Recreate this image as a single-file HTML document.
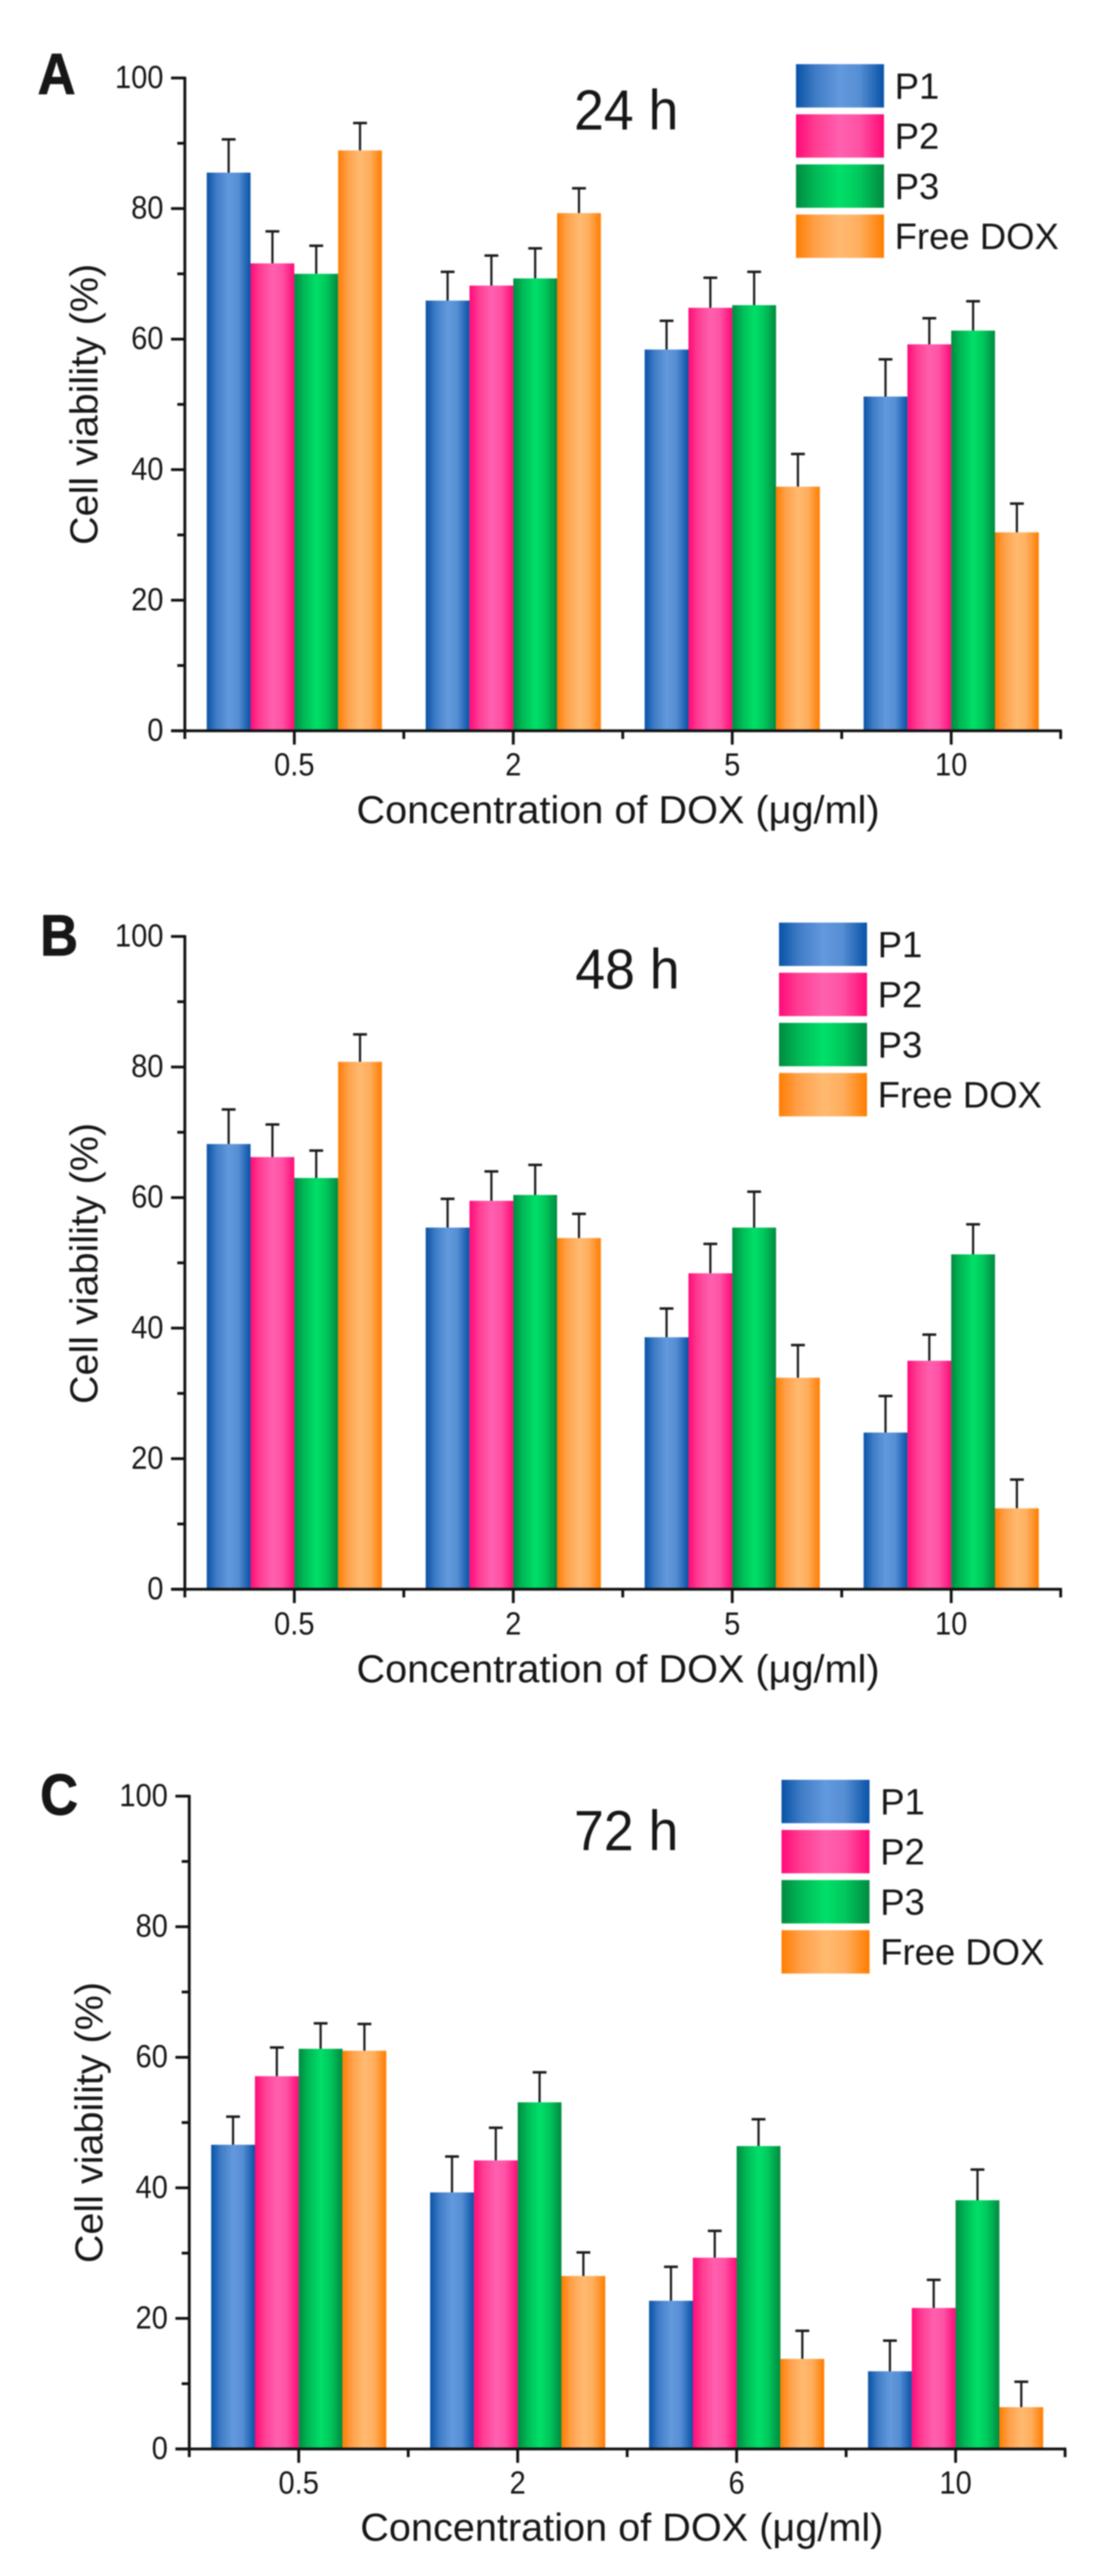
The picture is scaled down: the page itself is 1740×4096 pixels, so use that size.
<!DOCTYPE html>
<html lang="en">
<head>
<meta charset="utf-8">
<title>Cell viability charts</title>
<style>
html,body{margin:0;padding:0;background:#fff;width:1740px;height:4096px;overflow:hidden}
svg{display:block;filter:blur(1px)}
text{font-family:"Liberation Sans",Arial,sans-serif;fill:#161616}
</style>
</head>
<body>
<svg id="figure" xmlns="http://www.w3.org/2000/svg" width="1740" height="4096" viewBox="0 0 1740 4096">
<defs>
<linearGradient id="grad-p1"><stop offset="0" stop-color="#0852a6"/><stop offset=".22" stop-color="#3f7cc6"/><stop offset=".5" stop-color="#6399dd"/><stop offset=".72" stop-color="#568ed4"/><stop offset="1" stop-color="#0852a6"/></linearGradient>
<linearGradient id="grad-p2"><stop offset="0" stop-color="#ff0a78"/><stop offset=".22" stop-color="#ff3d92"/><stop offset=".5" stop-color="#ff60b0"/><stop offset=".72" stop-color="#ff52a4"/><stop offset="1" stop-color="#ff0a78"/></linearGradient>
<linearGradient id="grad-p3"><stop offset="0" stop-color="#008a40"/><stop offset=".22" stop-color="#00b856"/><stop offset=".5" stop-color="#00e068"/><stop offset=".72" stop-color="#00c85c"/><stop offset="1" stop-color="#008a40"/></linearGradient>
<linearGradient id="grad-dox"><stop offset="0" stop-color="#ff7d00"/><stop offset=".22" stop-color="#ffa04a"/><stop offset=".5" stop-color="#ffba70"/><stop offset=".72" stop-color="#ffae5e"/><stop offset="1" stop-color="#ff7d00"/></linearGradient>
</defs>
</svg>
<script>
// ---- chart data ----
const seriesNames = ["P1", "P2", "P3", "Free DOX"];
const yTickLabels = [0, 20, 40, 60, 80, 100];
const yMinorTicks = [10, 30, 50, 70, 90];

const categoriesA = ["0.5", "2", "5", "10"];
const p1ValuesA = [85.5, 65.9, 58.4, 51.2];
const p2ValuesA = [71.6, 68.2, 64.8, 59.2];
const p3ValuesA = [70.0, 69.3, 65.2, 61.3];
const doxValuesA = [88.9, 79.3, 37.4, 30.4];
const p1ErrorsA = [5.1, 4.4, 4.4, 5.7];
const p2ErrorsA = [4.9, 4.6, 4.6, 4.0];
const p3ErrorsA = [4.3, 4.6, 5.1, 4.5];
const doxErrorsA = [4.2, 3.8, 5.0, 4.4];

const categoriesB = ["0.5", "2", "5", "10"];
const p1ValuesB = [68.2, 55.4, 38.6, 24.0];
const p2ValuesB = [66.2, 59.5, 48.4, 35.0];
const p3ValuesB = [63.0, 60.4, 55.4, 51.3];
const doxValuesB = [80.8, 53.8, 32.4, 12.4];
const p1ErrorsB = [5.3, 4.4, 4.4, 5.6];
const p2ErrorsB = [5.0, 4.5, 4.5, 4.0];
const p3ErrorsB = [4.2, 4.6, 5.5, 4.6];
const doxErrorsB = [4.2, 3.7, 5.0, 4.4];

const categoriesC = ["0.5", "2", "6", "10"];
const p1ValuesC = [46.6, 39.3, 22.7, 11.9];
const p2ValuesC = [57.1, 44.2, 29.3, 21.6];
const p3ValuesC = [61.3, 53.1, 46.4, 38.1];
const doxValuesC = [61.0, 26.5, 13.8, 6.4];
const p1ErrorsC = [4.3, 5.5, 5.2, 4.7];
const p2ErrorsC = [4.4, 5.0, 4.1, 4.3];
const p3ErrorsC = [3.9, 4.6, 4.1, 4.7];
const doxErrorsC = [4.1, 3.6, 4.3, 3.9];

// ---- panel assembly and layout ----
const gradients = ["url(#grad-p1)", "url(#grad-p2)", "url(#grad-p3)", "url(#grad-dox)"];
const seriesKeys = ["p1", "p2", "p3", "free-dox"];

const panels = [
  { id: "a", letter: "A", time: "24 h", cats: categoriesA,
    values: [p1ValuesA, p2ValuesA, p3ValuesA, doxValuesA],
    errors: [p1ErrorsA, p2ErrorsA, p3ErrorsA, doxErrorsA],
    left: 294, right: 1687, top: 124, base: 1162,
    letterX: 60, letterY: 149, timeX: 913, timeY: 206,
    legendX: 1266, legendY: 102, legendTextX: 1423,
    xTickY: 1233, xTitleX: 567, xTitleY: 1309,
    yTitleX: 155, yTitleY: 643 },
  { id: "b", letter: "B", time: "48 h", cats: categoriesB,
    values: [p1ValuesB, p2ValuesB, p3ValuesB, doxValuesB],
    errors: [p1ErrorsB, p2ErrorsB, p3ErrorsB, doxErrorsB],
    left: 294, right: 1687, top: 1489, base: 2527,
    letterX: 64, letterY: 1519, timeX: 915, timeY: 1572,
    legendX: 1239, legendY: 1467, legendTextX: 1396,
    xTickY: 2599, xTitleX: 567, xTitleY: 2675,
    yTitleX: 155, yTitleY: 2009 },
  { id: "c", letter: "C", time: "72 h", cats: categoriesC,
    values: [p1ValuesC, p2ValuesC, p3ValuesC, doxValuesC],
    errors: [p1ErrorsC, p2ErrorsC, p3ErrorsC, doxErrorsC],
    left: 301, right: 1694, top: 2856, base: 3894,
    letterX: 64, letterY: 2885, timeX: 913, timeY: 2942,
    legendX: 1243, legendY: 2830, legendTextX: 1400,
    xTickY: 3965, xTitleX: 573, xTitleY: 4040,
    yTitleX: 163, yTitleY: 3375 }
];

const SVG_NS = "http://www.w3.org/2000/svg";
const figure = document.getElementById("figure");

function make(tag, attrs, parent, content) {
  const node = document.createElementNS(SVG_NS, tag);
  for (const key in attrs) node.setAttribute(key, attrs[key]);
  if (content !== undefined) node.textContent = content;
  parent.appendChild(node);
  return node;
}

// tick labels are slightly condensed in the figure
function tickWidth(label) {
  return label.split("").reduce((w, ch) => w + (ch === "." ? 13 : 25.7), 0);
}

function drawPanel(panel) {
  const group = make("g", {}, figure);
  
  

  // axis functions
  const yScale = v => panel.base + (panel.top - panel.base) * v / 100;
  const catWidth = (panel.right - panel.left) / panel.cats.length;
  const xCenter = i => panel.left + catWidth * (i + 0.5);
  const barWidth = catWidth / 5;

  // bars and error bars
  panel.values.forEach((series, s) => {
    series.forEach((value, i) => {
      const barX = xCenter(i) + (s - 2) * barWidth;
      const topY = yScale(value);
      const errTop = yScale(value + panel.errors[s][i]);
      const midX = barX + barWidth / 2;

      const errLine = make("line", { x1: midX, x2: midX, y1: topY, y2: errTop, stroke: "#1a1a1a", "stroke-width": 3.5 }, group);
      
      
      const errCap = make("line", { x1: midX - 11, x2: midX + 11, y1: errTop, y2: errTop, stroke: "#1a1a1a", "stroke-width": 4 }, group);
      
      

      const bar = make("rect", { x: barX, y: topY, width: barWidth, height: panel.base - topY, fill: gradients[s] }, group);
      
      
    });
  });

  // axes
  const yAxis = make("line", { x1: panel.left, x2: panel.left, y1: panel.top - 2, y2: panel.base + 13, stroke: "#111", "stroke-width": 4.5 }, group);
  
  
  const xAxis = make("line", { x1: panel.left - 22, x2: panel.right + 2, y1: panel.base, y2: panel.base, stroke: "#111", "stroke-width": 4.5 }, group);
  
  

  // y ticks
  yTickLabels.forEach(tick => {
    const y = yScale(tick);
    const tickLine = make("line", { x1: panel.left - 22, x2: panel.left, y1: y, y2: y, stroke: "#111", "stroke-width": 4.5 }, group);
    
    
    const tickText = make("text", { x: panel.left - 34, y: y + 16, "text-anchor": "end", "font-size": 51, textLength: tickWidth(String(tick)), lengthAdjust: "spacingAndGlyphs" }, group, String(tick));
    
    
  });
  yMinorTicks.forEach(tick => {
    const y = yScale(tick);
    const minor = make("line", { x1: panel.left - 12, x2: panel.left, y1: y, y2: y, stroke: "#111", "stroke-width": 4.5 }, group);
    
    
  });

  // x ticks
  panel.cats.forEach((cat, i) => {
    const x = xCenter(i);
    const tickLine = make("line", { x1: x, x2: x, y1: panel.base, y2: panel.base + 22, stroke: "#111", "stroke-width": 4.5 }, group);
    
    
    const tickText = make("text", { x: x, y: panel.xTickY, "text-anchor": "middle", "font-size": 51, textLength: tickWidth(cat), lengthAdjust: "spacingAndGlyphs" }, group, cat);
    
    
    const minorX = panel.left + catWidth * (i + 1);
    const minor = make("line", { x1: minorX, x2: minorX, y1: panel.base, y2: panel.base + 13, stroke: "#111", "stroke-width": 4.5 }, group);
    
    
  });

  // titles
  const xTitle = make("text", { x: panel.xTitleX, y: panel.xTitleY, "font-size": 62, textLength: 832, lengthAdjust: "spacingAndGlyphs" }, group, "Concentration of DOX (\u03bcg/ml)");
  
  
  const yTitle = make("text", { transform: "translate(" + panel.yTitleX + "," + panel.yTitleY + ") rotate(-90)", "text-anchor": "middle", "font-size": 62, textLength: 447, lengthAdjust: "spacingAndGlyphs" }, group, "Cell viability (%)");
  
  
  const timeLabel = make("text", { x: panel.timeX, y: panel.timeY, "font-size": 90, textLength: 166, lengthAdjust: "spacingAndGlyphs" }, group, panel.time);
  
  
  const letter = make("text", { x: panel.letterX, y: panel.letterY, "font-size": 92, "font-weight": "bold", textLength: 60, lengthAdjust: "spacingAndGlyphs", stroke: "#161616", "stroke-width": 1.5 }, group, panel.letter);
  
  

  // legend
  seriesNames.forEach((name, s) => {
    const rowY = panel.legendY + s * 79.7;
    const swatch = make("rect", { x: panel.legendX, y: rowY, width: 140, height: 69, fill: gradients[s] }, group);
    
    
    const label = make("text", { x: panel.legendTextX, y: rowY + 55, "font-size": 58 }, group, name);
    
    
  });
}

panels.forEach(drawPanel);
</script>
</body>
</html>
